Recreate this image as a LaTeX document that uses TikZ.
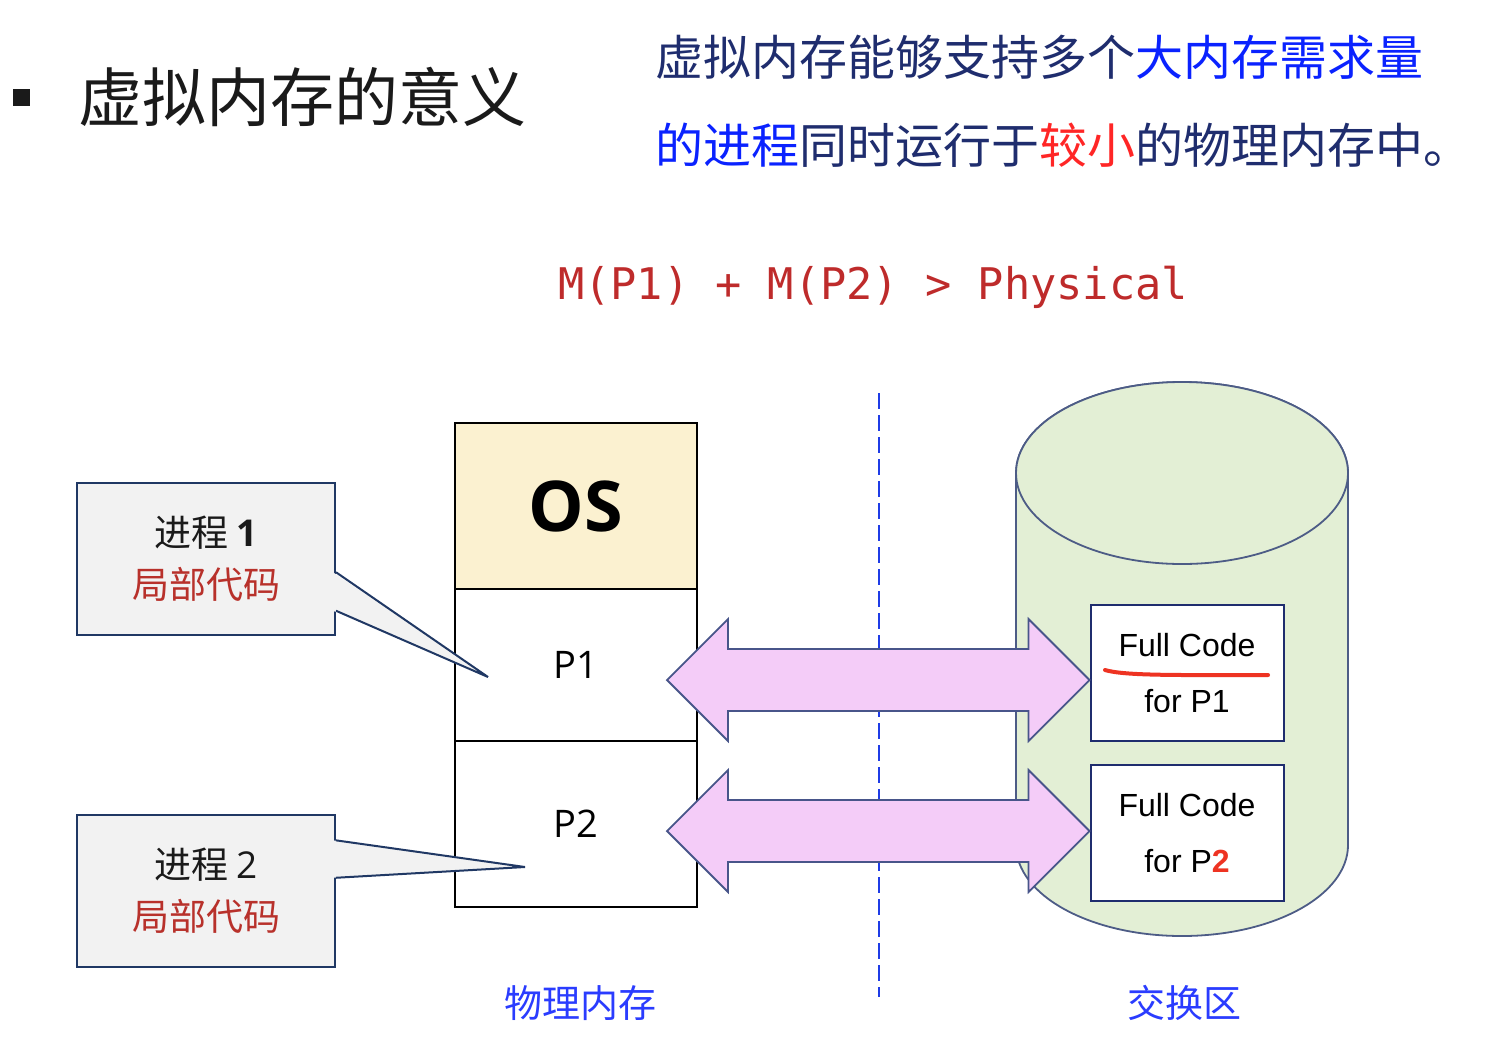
\documentclass[tikz,border=0pt]{standalone}
\usepackage{fontspec}
\usepackage{xcolor}
\usepackage{tikz}
\usetikzlibrary{calc}
\newfontfamily\cjk{Noto Sans CJK SC}
\newfontfamily\uisans{Open Sans}
\newfontfamily\arialish{Liberation Sans}
\newfontfamily\codemono{DejaVu Sans Mono}
\definecolor{ink}{HTML}{1A1A1A}
\definecolor{navy}{HTML}{1F2D6E}
\definecolor{brightblue}{HTML}{0A22FF}
\definecolor{hotred}{HTML}{FF2626}
\definecolor{codered}{HTML}{BE2B2B}
\definecolor{oscream}{HTML}{FBF1D0}
\definecolor{calloutgray}{HTML}{F2F2F2}
\definecolor{calloutedge}{HTML}{203864}
\definecolor{diskgreen}{HTML}{E3EFD5}
\definecolor{diskedge}{HTML}{4D5C86}
\definecolor{swapviolet}{HTML}{F4CCF8}
\definecolor{swapedge}{HTML}{48558A}
\definecolor{labelblue}{HTML}{2A3CFF}
\definecolor{cutblue}{HTML}{1F3CE6}
\definecolor{partred}{HTML}{B8312B}
\definecolor{penred}{HTML}{EE3322}

\tikzset{
  memcell/.style={draw=black, line width=1pt, minimum width=121pt, inner sep=0pt},
  callbox/.style={draw=calloutedge, fill=calloutgray, line width=1pt, minimum width=129pt,
    minimum height=76pt, align=center, text=ink, font=\cjk\fontsize{18.5}{26}\selectfont},
  codebox/.style={draw=navy, fill=white, line width=1pt, minimum width=96.5pt,
    minimum height=68pt, align=center, font=\arialish\fontsize{16}{28}\selectfont},
  diskbody/.style={draw=diskedge, fill=diskgreen, line width=0.9pt},
  swaparrow/.style={draw=swapedge, fill=swapviolet, line width=0.9pt, line join=miter},
  cutline/.style={draw=cutblue, line width=0.8pt, dash pattern=on 8pt off 3pt},
  zonelabel/.style={text=labelblue, font=\cjk\fontsize{19}{22}\selectfont},
}

\newcommand\fatswap[2]{%
  \draw[swaparrow] (#1) -- ++(61,-61) -- ++(0,30) -- ($(#2)+(-61,-31)$) -- ++(0,-30) -- (#2)
    -- ++(-61,61) -- ++(0,-30) -- ($(#1)+(61,31)$) -- ++(0,30) -- cycle;}

\begin{document}
\begin{tikzpicture}[x=0.5pt, y=-0.5pt]
  \useasboundingbox (0,0) rectangle (1486,1044);

  % heading and claim
  \node[fill=ink, minimum size=8.5pt, inner sep=0pt] (bullet) at (21,97) {};
  \node[anchor=west, text=ink, font=\cjk\fontsize{32}{36}\selectfont] (title) at (71,97) {虚拟内存的意义};
  \node[anchor=west, text=navy, font=\cjk\fontsize{24}{28}\selectfont] (claim1) at (648,57)
    {虚拟内存能够支持多个\textcolor{brightblue}{大内存需求量}};
  \node[anchor=west, text=navy, font=\cjk\fontsize{24}{28}\selectfont] (claim2) at (648,145)
    {\textcolor{brightblue}{的进程}同时运行于\textcolor{hotred}{较小}的物理内存中。};
  \node[text=codered, font=\codemono\fontsize{21.8}{24}\selectfont] (ineq) at (873,287)
    {M(P1) + M(P2) > Physical};

  % physical memory
  \node[memcell, fill=oscream, minimum height=83pt, font=\uisans\bfseries\fontsize{35}{40}\selectfont] (os) at (576,506) {OS};
  \node[memcell, fill=white, minimum height=76pt, font=\uisans\fontsize{19}{24}\selectfont] (p1) at (576,665) {P1};
  \node[memcell, fill=white, minimum height=83pt, font=\uisans\fontsize{19}{24}\selectfont] (p2) at (576,824) {P2};
  \node[zonelabel] (memlabel) at (580,1003) {物理内存};

  % callouts
  \node[callbox] (c1) at (206,559) {进程 {\uisans\bfseries 1}\\\textcolor{partred}{局部代码}};
  \node[callbox] (c2) at (206,891) {进程 {\uisans 2}\\\textcolor{partred}{局部代码}};
  \coordinate (c1top) at ($(c1.north east)!0.586!(c1.south east)$);
  \coordinate (c1bot) at ($(c1.north east)!0.836!(c1.south east)$);
  \coordinate (c1tip) at (488,677);
  \coordinate (c2top) at ($(c2.north east)!0.171!(c2.south east)$);
  \coordinate (c2bot) at ($(c2.north east)!0.414!(c2.south east)$);
  \coordinate (c2tip) at (525,867);
  \fill[calloutgray] ([xshift=-1.5pt]c1top) -- (c1tip) -- ([xshift=-1.5pt]c1bot) -- cycle;
  \draw[calloutedge, line width=1pt] (c1top) -- (c1tip) -- (c1bot);
  \fill[calloutgray] ([xshift=-1.5pt]c2top) -- (c2tip) -- ([xshift=-1.5pt]c2bot) -- cycle;
  \draw[calloutedge, line width=1pt] (c2top) -- (c2tip) -- (c2bot);

  % swap area
  \coordinate (disktop) at (1182,473);
  \coordinate (diskbot) at (1182,845);
  \filldraw[diskbody] ($(disktop)+(-166,0)$) -- ($(diskbot)+(-166,0)$)
    arc[start angle=180, end angle=360, x radius=83pt, y radius=45.5pt]
    -- ($(disktop)+(166,0)$) arc[start angle=0, end angle=180, x radius=83pt, y radius=45.5pt] -- cycle;
  \filldraw[diskbody] (disktop) ellipse[x radius=83pt, y radius=45.5pt];
  \node[codebox] (fc1) at (1187,673) {\raisebox{-1.5pt}{Full Code}\\\raisebox{-1.5pt}{for P1}};
  \node[codebox] (fc2) at (1187,833) {\raisebox{-1.5pt}{Full Code}\\\raisebox{-1.5pt}{for P{\color{penred}\bfseries 2}}};
  \node[zonelabel] (swaplabel) at (1184,1003) {交换区};
  \coordinate (ul1) at (1105,670);
  \coordinate (ul2) at (1268,675);
  \draw[penred, line width=2pt, line cap=round] (ul1) .. controls (1125,676) and (1180,675) .. (ul2);

  % divider and transfers
  \coordinate (cuttop) at (879,393);
  \coordinate (cutbot) at (879,997);
  \draw[cutline] (cuttop) -- (cutbot);
  \coordinate (a1w) at (667,680);
  \coordinate (a1e) at (fc1.west |- a1w);
  \coordinate (a2w) at (667,831);
  \coordinate (a2e) at (fc2.west |- a2w);
  \fatswap{a1w}{a1e}
  \fatswap{a2w}{a2e}
\end{tikzpicture}
\end{document}
